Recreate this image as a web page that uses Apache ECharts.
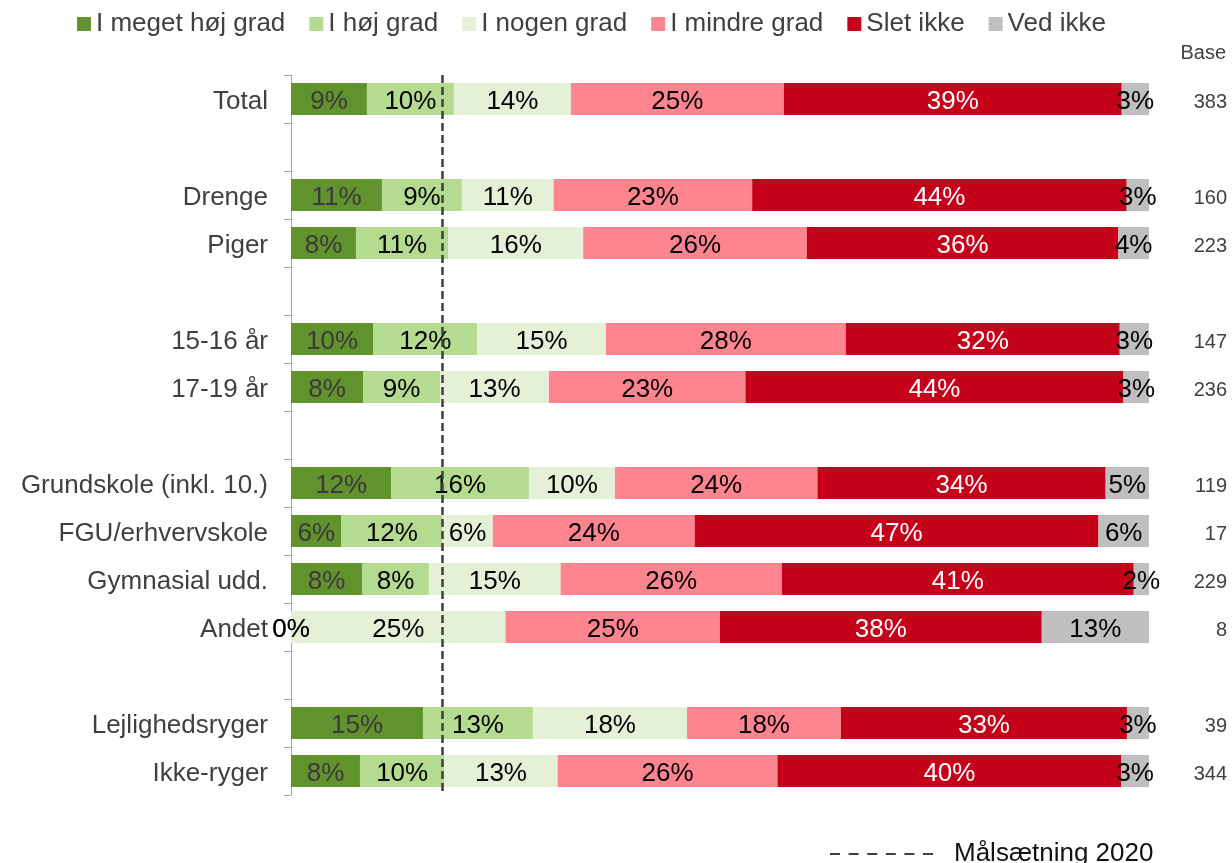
<!DOCTYPE html>
<html>
<head>
<meta charset="utf-8">
<script src="https://cdn.jsdelivr.net/npm/echarts@6/dist/echarts.min.js"></script>
<style>
  html, body { margin: 0; padding: 0; background: #fff; }
  #chart { width: 1232px; height: 863px; }
</style>
</head>
<body>
<div id="chart"></div>
<script>
// Row labels; blank entries are spacer rows between groups
const categories = ['Total', ' ', 'Drenge', 'Piger', '  ', '15-16 år', '17-19 år', '   ',
  'Grundskole (inkl. 10.)', 'FGU/erhvervskole', 'Gymnasial udd.', 'Andet', '    ',
  'Lejlighedsryger', 'Ikke-ryger'];

// Number of respondents per row
const baseCounts = [383, null, 160, 223, null, 147, 236, null, 119, 17, 229, 8, null, 39, 344];

// Shares (%) per answer category
const megetHoej = [8.85, null, 10.6, 7.57, null, 9.6, 8.39, null, 11.69, 5.88, 8.27, 0, null, 15.38, 8.04];
const hoej      = [10.14, null, 9.32, 10.76, null, 12.1, 9.01, null, 16.04, 11.76, 7.81, 0, null, 12.82, 9.83];
const nogen     = [13.63, null, 10.69, 15.73, null, 15.0, 12.66, null, 10.02, 5.88, 15.34, 25, null, 17.95, 13.2];
const mindre    = [24.82, null, 23.14, 26.06, null, 27.96, 22.91, null, 23.61, 23.53, 25.79, 25, null, 17.95, 25.63];
const sletIkke  = [39.38, null, 43.65, 36.31, null, 31.93, 44.05, null, 33.59, 47.06, 41.01, 37.5, null, 33.33, 40.08];
const vedIkke   = [3.18, null, 2.6, 3.57, null, 3.41, 2.98, null, 5.05, 5.88, 1.78, 12.5, null, 2.56, 3.22];

// Target level (%)
const maal2020 = 17.6;

const seriesNames = ['I meget høj grad', 'I høj grad', 'I nogen grad', 'I mindre grad', 'Slet ikke', 'Ved ikke'];
const seriesData = [megetHoej, hoej, nogen, mindre, sletIkke, vedIkke];
const colors = ['#62922e', '#b4db90', '#e4f1d6', '#fe8590', '#c50019', '#bfbfbf'];
const labelColors = ['#3a3a3a', '#000000', '#000000', '#000000', '#ffffff', '#000000'];

const FONT = "'Liberation Sans', Arial, sans-serif";

const barSeries = seriesNames.map((name, i) => ({
  name: name,
  type: 'bar',
  stack: 'total',
  barWidth: 32,
  data: seriesData[i],
  itemStyle: { color: colors[i] },
  label: {
    show: true,
    position: 'inside',
    offset: [0, 3],
    color: labelColors[i],
    fontFamily: FONT,
    fontSize: 26,
    formatter: p => (p.value == null ? '' : Math.round(p.value) + '%')
  },
  emphasis: { disabled: true },
  silent: true
}));

const targetSeries = {
  name: 'Målsætning 2020',
  type: 'line',
  yAxisIndex: 0,
  data: categories.map(() => null),
  symbol: 'none',
  itemStyle: { color: 'rgba(0,0,0,0)' },
  lineStyle: { color: '#404040', width: 2, type: [10, 8.6] },
  silent: true,
  markLine: {
    silent: true,
    symbol: ['none', 'none'],
    label: { show: false },
    lineStyle: { color: '#404040', width: 2.5, type: [8, 4] },
    emphasis: { disabled: true },
    data: [{ xAxis: maal2020 }]
  }
};

const chart = echarts.init(document.getElementById('chart'), null, { renderer: 'canvas' });
chart.setOption({
  animation: false,
  textStyle: { fontFamily: FONT },
  grid: { left: 291, right: 83, top: 75, bottom: 68, containLabel: false },
  legend: [
    {
      data: seriesNames,
      left: 72,
      top: 6,
      icon: 'rect',
      itemWidth: 14,
      itemHeight: 14,
      itemGap: 24,
      selectedMode: false,
      textStyle: { fontFamily: FONT, fontSize: 26, color: '#404040' }
    },
    {
      data: ['Målsætning 2020'],
      left: 824,
      top: 836,
      itemWidth: 103,
      itemHeight: 14,
      selectedMode: false,
      textStyle: { fontFamily: FONT, fontSize: 26, color: '#111111', padding: [0, 0, 0, 16] }
    }
  ],
  xAxis: {
    type: 'value',
    min: 0,
    max: 100,
    show: false
  },
  yAxis: [
    {
      type: 'category',
      inverse: true,
      data: categories,
      axisLine: { show: true, lineStyle: { color: '#a6a6a6', width: 1 } },
      axisTick: { show: true, length: 7, lineStyle: { color: '#a6a6a6' } },
      axisLabel: {
        fontFamily: FONT, fontSize: 26, color: '#404040', margin: 23,
        verticalAlign: 'top', lineHeight: 6
      }
    },
    {
      type: 'category',
      inverse: true,
      position: 'right',
      data: categories,
      axisLine: { show: false },
      axisTick: { show: false },
      axisLabel: {
        fontFamily: FONT,
        fontSize: 20,
        color: '#404040',
        align: 'right',
        margin: 78,
        verticalAlign: 'top',
        lineHeight: 6,
        formatter: (v, idx) => (baseCounts[idx] == null ? '' : String(baseCounts[idx]))
      }
    }
  ],
  graphic: [
    {
      type: 'text',
      right: 6,
      top: 43,
      style: { text: 'Base', fontFamily: FONT, fontSize: 20, fill: '#404040' }
    }
  ],
  series: barSeries.concat([targetSeries])
});
</script>
</body>
</html>
